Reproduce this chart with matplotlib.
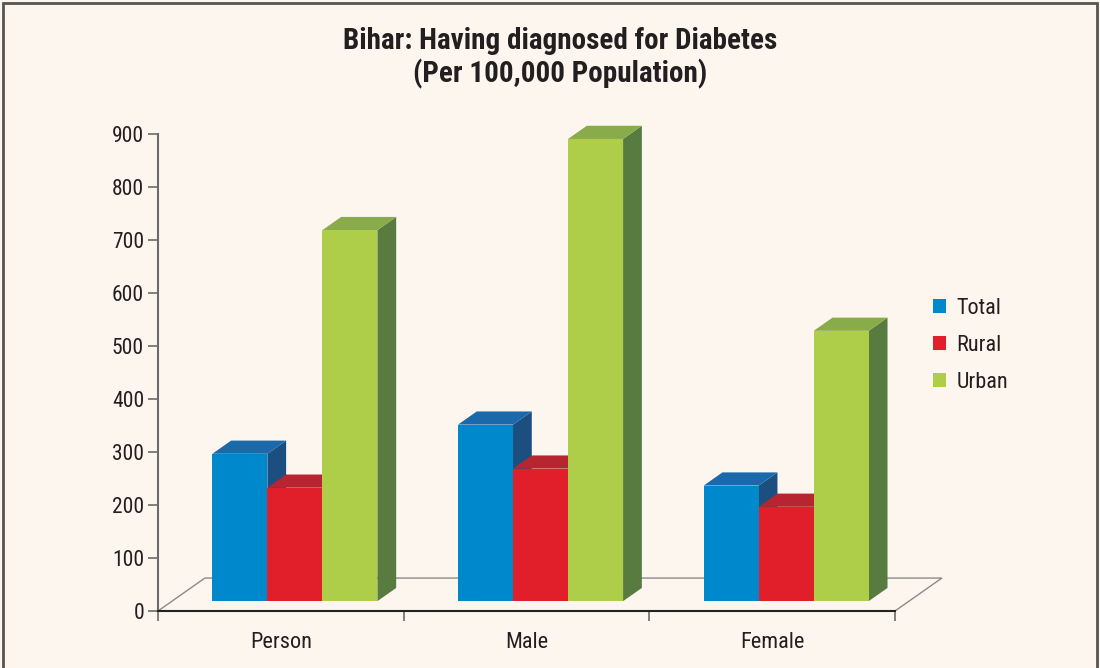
import matplotlib.pyplot as plt
from matplotlib import font_manager
from matplotlib.patches import Polygon, Patch, Rectangle

categories = ['Person', 'Male', 'Female']
series = ['Total', 'Rural', 'Urban']
total = [278, 333, 218]
rural = [214, 250, 178]
urban = [700, 872, 510]
yticks = [0, 100, 200, 300, 400, 500, 600, 700, 800, 900]

front_colors = ['#0088cc', '#e11f2b', '#aece4a']
top_colors = ['#1a6aab', '#b72531', '#8aab4a']
side_colors = ['#1c4f80', '#8c1d25', '#587b40']

# pick a narrow sans face (Arial Narrow look) if one is there
installed = set(f.name for f in font_manager.fontManager.ttflist)
narrow = [n for n in ['Liberation Sans Narrow', 'Arial Narrow', 'Roboto Condensed',
                      'Archivo Narrow', 'Liberation Sans'] if n in installed]
narrow_bold = [n for n in ['Liberation Sans Narrow', 'Arial Narrow', 'Roboto Condensed',
                           'Barlow Condensed', 'Liberation Sans'] if n in installed]
plt.rcParams['font.family'] = narrow + ['DejaVu Sans']

bg = '#fdf6ef'
fig = plt.figure(figsize=(11, 6.68), dpi=100, facecolor=bg)
ax = fig.add_axes([0.1436, 0.0853, 0.67, 0.7141])
ax.set_facecolor('none')
ax.set_xlim(-0.5, 2.5)
ax.set_ylim(0, 900)

# depth of the floor (x units, y units) and bar width
ddx, ddy = 0.191, 62.2
bw = 0.224

floor = Polygon([(-0.5, 0), (2.5, 0), (2.5 + ddx, ddy), (-0.5 + ddx, ddy)],
                closed=True, fill=False, edgecolor='#8a8a8a', lw=1, clip_on=False, zorder=1)
ax.add_patch(floor)

z = 2
for i in range(len(categories)):
    for j, vals in enumerate([total, rural, urban]):
        x0 = i - 1.5 * bw + j * bw + 0.3 * ddx
        y0 = 0.3 * ddy
        h = vals[i]
        dx, dy = 0.4 * ddx, 0.4 * ddy
        side = Polygon([(x0 + bw, y0), (x0 + bw, y0 + h), (x0 + bw + dx, y0 + h + dy), (x0 + bw + dx, y0 + dy)],
                       closed=True, facecolor=side_colors[j], edgecolor='none', clip_on=False, zorder=z)
        top = Polygon([(x0, y0 + h), (x0 + bw, y0 + h), (x0 + bw + dx, y0 + h + dy), (x0 + dx, y0 + h + dy)],
                      closed=True, facecolor=top_colors[j], edgecolor='none', clip_on=False, zorder=z)
        front = Rectangle((x0, y0), bw, h, facecolor=front_colors[j], edgecolor='none', clip_on=False, zorder=z)
        ax.add_patch(side)
        ax.add_patch(top)
        ax.add_patch(front)
        z += 1

for s in ['top', 'right']:
    ax.spines[s].set_visible(False)
ax.spines['left'].set_color('#6b6b6b')
ax.spines['left'].set_linewidth(1.5)
ax.spines['bottom'].set_color('#222222')
ax.spines['bottom'].set_linewidth(1.5)

ax.set_yticks(yticks)
ax.set_yticklabels([str(v) for v in yticks], fontsize=15.5, color='#231f20')
ax.tick_params(axis='y', length=7, width=1.2, color='#6b6b6b', pad=3)
ax.set_xticks([-0.5, 0.5, 1.5, 2.5])
ax.set_xticklabels([])
ax.tick_params(axis='x', which='major', length=7, width=1.2, color='#6b6b6b')
ax.set_xticks([0, 1, 2], minor=True)
ax.set_xticklabels(categories, minor=True, fontsize=16, color='#231f20')
ax.tick_params(axis='x', which='minor', length=0, pad=15)

fig.text(0.509, 0.913, 'Bihar: Having diagnosed for Diabetes\n(Per 100,000 Population)',
         ha='center', va='center', fontsize=21, fontweight='bold', color='#231f20',
         linespacing=1.15, family=narrow_bold + ['DejaVu Sans'])

handles = [Patch(facecolor=c, edgecolor='none') for c in front_colors]
fig.legend(handles, series, loc='center left', bbox_to_anchor=(0.848, 1 - 345 / 668),
           frameon=False, fontsize=16, handlelength=0.6, handleheight=0.6,
           handletextpad=0.45, labelspacing=0.72, borderpad=0, borderaxespad=0,
           labelcolor='#231f20')

fig.patches.append(Rectangle((0.0027, -0.05), 0.9946, 1.0455, transform=fig.transFigure,
                             fill=False, edgecolor='#555555', lw=2))

fig.savefig('out.png', dpi=100, facecolor=bg)
